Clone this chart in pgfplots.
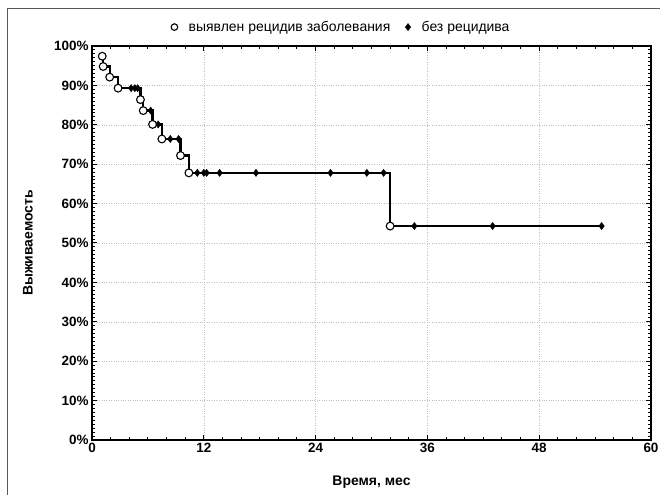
\documentclass[border=0pt]{standalone}
\usepackage{fontspec}
\setmainfont{Liberation Sans}
\usepackage{pgfplots}
\usepackage{pgfplotstable}
\pgfplotsset{compat=1.18}

% Kaplan-Meier curve: all observations in time order
\pgfplotstableread{
t s
1.1 97.4
1.2 94.8
1.9 92.1
2.8 89.3
4.2 89.3
4.6 89.3
4.9 89.3
5.2 86.4
5.5 83.6
6.3 83.6
6.5 80.1
7.1 80.1
7.5 76.4
8.4 76.4
9.3 76.4
9.5 72.2
10.4 67.8
11.3 67.8
12.0 67.8
12.3 67.8
13.7 67.8
17.6 67.8
25.6 67.8
29.5 67.8
31.3 67.8
32.0 54.3
34.6 54.3
43.0 54.3
54.7 54.3
}\kmcurve

% relapse detected (open circles)
\pgfplotstableread{
t s
1.1 97.4
1.2 94.8
1.9 92.1
2.8 89.3
5.2 86.4
5.5 83.6
6.5 80.1
7.5 76.4
9.5 72.2
10.4 67.8
32.0 54.3
}\events

% no relapse (censored, filled diamonds)
\pgfplotstableread{
t s
4.2 89.3
4.6 89.3
4.9 89.3
6.3 83.6
7.1 80.1
8.4 76.4
9.3 76.4
11.3 67.8
12.0 67.8
12.3 67.8
13.7 67.8
17.6 67.8
25.6 67.8
29.5 67.8
31.3 67.8
34.6 54.3
43.0 54.3
54.7 54.3
}\censored

\begin{document}
\begin{tikzpicture}
\path[use as bounding box] (-92bp,-55bp) rectangle (568bp,440bp);
\draw[line width=0.8bp, gray!70!black] (-85bp,-60bp) -- (-85bp,432bp) -- (575bp,432bp);
\begin{axis}[
  scale only axis, width=559bp, height=394bp,
  at={(0,0)}, anchor=south west,
  xmin=0, xmax=60, ymin=0, ymax=100,
  xtick={0,12,...,60}, ytick={0,10,...,100},
  minor x tick num=5, minor y tick num=9,
  yticklabel={\pgfmathprintnumber{\tick}\%},
  /pgf/number format/assume math mode=true,
  grid=major, major grid style={dotted, gray!50},
  axis line style={line width=1.5bp},
  tick style={black, line width=1bp},
  major tick length=5bp, minor tick length=3bp,
  tick label style={font=\fontsize{13.5}{15}\bfseries\selectfont},
  label style={font=\fontsize{14}{16}\bfseries\selectfont},
  xlabel={Время, мес},
  ylabel={Выживаемость},
  xlabel style={at={(axis description cs:0.5,-0.107)}, anchor=center},
  ylabel style={at={(axis description cs:-0.1145,0.5)}, anchor=center},
  legend style={at={(0.446,1.048)}, anchor=center, draw=none, fill=none,
    font=\fontsize{14}{16}\selectfont, legend columns=2,
    /tikz/every odd column/.append style={column sep=9bp},
    /tikz/every even column/.append style={column sep=13bp}},
  legend cell align=left,
]
\addplot[const plot, black, line width=2.4bp, no marks, forget plot] table {\kmcurve};
\addplot[only marks, mark=diamond*, mark size=3.6bp, black, forget plot] table {\censored};
\addplot[only marks, mark=*, mark size=3.9bp, mark options={fill=white, draw=black, line width=1.1bp}, forget plot] table {\events};
\addlegendimage{only marks, mark=*, mark size=3.3bp, mark options={fill=white, draw=black, line width=1.1bp}}
\addlegendentry{выявлен рецидив заболевания}
\addlegendimage{only marks, mark=diamond*, mark size=3.6bp, black}
\addlegendentry{без рецидива}
\end{axis}
\end{tikzpicture}
\end{document}
